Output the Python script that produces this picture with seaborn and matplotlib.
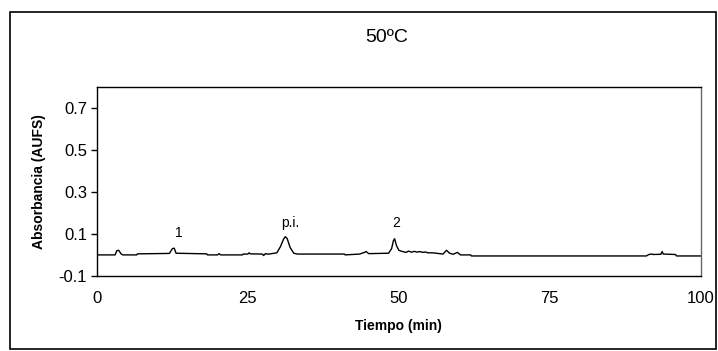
import matplotlib
matplotlib.use("Agg")
import matplotlib.pyplot as plt
import pandas as pd
import seaborn as sns
from matplotlib.patches import Rectangle

# chromatogram trace (min, AUFS)
tiempo = [0, 3.0, 3.3, 3.6, 4.0, 4.3, 6.6, 6.7, 12.0, 12.5, 12.8, 13.1,
          18.2, 18.3, 20.0, 20.2, 20.5, 24.1, 24.2, 25.0, 25.2, 25.4, 27.4,
          27.6, 27.9, 28.2, 28.5, 29.8, 30.4, 30.9, 31.2, 31.5, 32.0, 32.6,
          33.2, 41.0, 41.1, 43.5, 44.3, 44.6, 45.0, 48.3, 48.8, 49.1, 49.3,
          49.6, 50.0, 50.6, 51.2, 51.6, 52.1, 52.6, 53.0, 53.4, 54.0, 54.4,
          54.8, 55.6, 57.3, 57.9, 58.4, 59.0, 59.7, 60.2, 61.9, 62.0, 91.0,
          91.4, 91.8, 92.2, 93.4, 93.6, 93.8, 95.8, 96.0, 100]
absorbancia = [0.0, 0.0, 0.02, 0.022, 0.005, 0.0, 0.0, 0.005, 0.007, 0.03,
               0.032, 0.008, 0.005, 0.0, 0.0, 0.006, 0.0, 0.0, 0.004, 0.004,
               0.01, 0.005, 0.004, -0.003, 0.006, 0.004, 0.004, 0.01, 0.04,
               0.075, 0.087, 0.078, 0.035, 0.008, 0.004, 0.004, 0.0, 0.004,
               0.012, 0.016, 0.006, 0.008, 0.03, 0.068, 0.077, 0.045, 0.022,
               0.016, 0.012, 0.018, 0.013, 0.017, 0.013, 0.016, 0.012, 0.014,
               0.01, 0.01, 0.004, 0.022, 0.008, 0.003, 0.012, 0.0, 0.0,
               -0.005, -0.005, 0.002, 0.004, 0.002, 0.003, 0.016, 0.004,
               0.002, -0.005, -0.005]

# peak labels
etiquetas = ["1", "p.i.", "2"]
etiqueta_x = [13.6, 32.1, 49.5]
etiqueta_y = [0.105, 0.15, 0.15]

y_ticks = [-0.1, 0.1, 0.3, 0.5, 0.7]
x_ticks = [0, 25, 50, 75, 100]

sns.set_style("white")
plt.rcParams['font.family'] = ['Liberation Sans', 'DejaVu Sans']
plt.rcParams['text.color'] = 'black'
plt.rcParams['axes.labelcolor'] = 'black'
plt.rcParams['xtick.color'] = 'black'
plt.rcParams['ytick.color'] = 'black'

df = pd.DataFrame({'Tiempo': tiempo, 'Absorbancia': absorbancia})

fig = plt.figure(figsize=(7.18, 3.51), dpi=100)
ax = fig.add_axes([0.135, 0.214, 0.841, 0.538])

sns.lineplot(data=df, x='Tiempo', y='Absorbancia', ax=ax, color='black',
             linewidth=1.0, estimator=None, sort=False)

for txt, xx, yy in zip(etiquetas, etiqueta_x, etiqueta_y):
    ax.text(xx, yy, txt, ha='center', va='center', fontsize=10)

ax.set_xlim(0, 100)
ax.set_ylim(-0.1, 0.8)
ax.set_xticks(x_ticks)
ax.set_yticks(y_ticks)
ax.set_yticklabels([f"{v:.1f}" for v in y_ticks])
ax.tick_params(axis='x', length=0, labelsize=12, pad=11)
ax.tick_params(axis='y', length=4, width=1, labelsize=12,
               direction='out', left=True, pad=3)
for sp in ax.spines.values():
    sp.set_visible(True)
    sp.set_color('black')
    sp.set_linewidth(1)
ax.spines['right'].set_color('#666666')

ax.set_xlabel('Tiempo (min)', fontsize=10, fontweight='bold', labelpad=9)
ax.set_ylabel('Absorbancia (AUFS)', fontsize=10, fontweight='bold', labelpad=9)

fig.text(0.539, 0.893, '50ºC', ha='center', va='center', fontsize=14)

# outer frame around the chart area
fig.patches.append(Rectangle((0.014, 0.006), 0.983, 0.96,
                             transform=fig.transFigure, fill=False,
                             edgecolor='black', linewidth=1.2))

fig.savefig('out.png', dpi=100)
